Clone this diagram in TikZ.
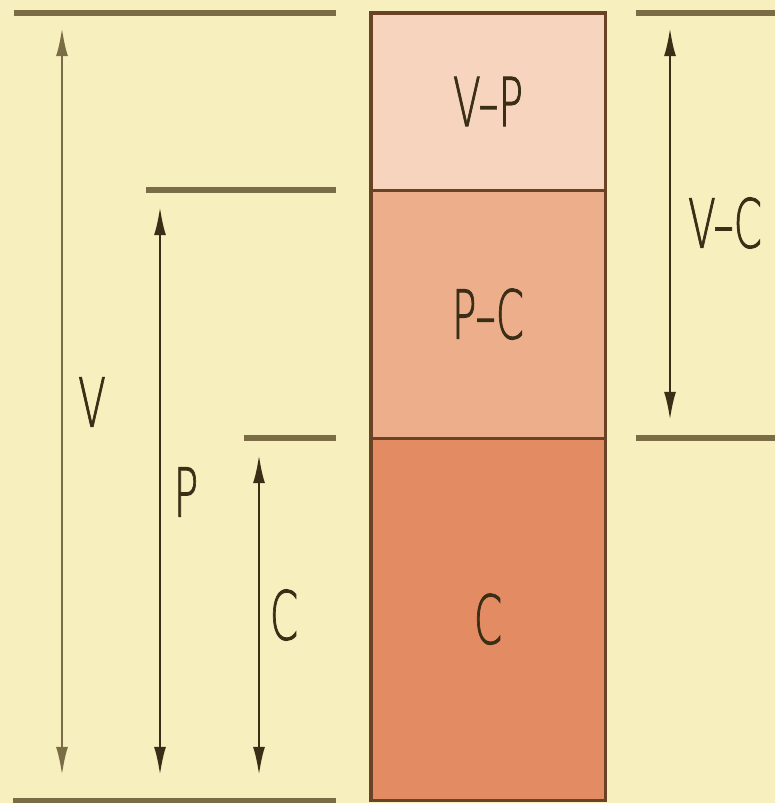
\documentclass[tikz,border=0pt]{standalone}
\usepackage{fontspec}
\setmainfont{DejaVu Sans}[UprightFont=* ExtraLight,UprightFeatures={FakeBold=1.6}]
\usetikzlibrary{arrows.meta,positioning}

\definecolor{paper}{HTML}{F8EFBE}
\definecolor{rule}{HTML}{7A6D45}
\definecolor{ink}{HTML}{3B2E17}
\definecolor{edge}{HTML}{6A4326}
\definecolor{lightpart}{HTML}{F6D4BE}
\definecolor{midpart}{HTML}{EDAE8B}
\definecolor{darkpart}{HTML}{E38B62}

\tikzset{
  level/.style={line width=4.2pt,rule},
  span/.style={line width=1.7pt,ink,{Latex[length=20pt,width=8.5pt]}-{Latex[length=20pt,width=8.5pt]}},
  lbl/.style={font=\fontsize{48}{50}\selectfont,text=ink,xscale=0.6,inner sep=0pt},
  part/.style={draw=edge,line width=2.2pt,outer sep=0pt,minimum width=5.85cm}
}

\begin{document}
\begin{tikzpicture}[x=0.025cm,y=-0.025cm]
	\fill[paper] (0,0) rectangle (775,803);
	\useasboundingbox (0,0) rectangle (775,803);
	% levels on the left
	\draw[level] (14,13) -- (336,13) coordinate (Vlevel);
	\draw[level] (146,190) -- (336,190) coordinate (Plevel);
	\draw[level] (244,438) -- (336,438) coordinate (Clevel);
	\draw[level] (13,801) -- (336,801) coordinate (zero);
	% levels on the right
	\draw[level] (636,13) -- (775,13) coordinate (VClevel top);
	\draw[level] (636,438) -- (775,438) coordinate (VClevel bot);
	% the bar
	\node[part,fill=lightpart,minimum height=4.425cm,anchor=north west] (vp) at (371,13) {};
	\node[part,fill=midpart,minimum height=6.2cm,below=0pt of vp] (pc) {};
	\node[part,fill=darkpart,minimum height=9.05cm,below=0pt of pc] (c) {};
	\node[lbl] at (vp) {V–P};
	\node[lbl] at (pc) {P–C};
	\node[lbl] at (c) {C};
	% spans
	\coordinate (Vtop) at (62,28);   \coordinate (Vbot) at (62,775);
	\coordinate (Ptop) at (160,207); \coordinate (Pbot) at (160,775);
	\coordinate (Ctop) at (259,455); \coordinate (Cbot) at (259,775);
	\coordinate (VCtop) at (670,28); \coordinate (VCbot) at (670,420);
	\draw[span,rule] (Vtop) -- (Vbot);
	\draw[span] (Ptop) -- (Pbot);
	\draw[span] (Ctop) -- (Cbot);
	\draw[span] (VCtop) -- (VCbot);
	\node[lbl] (Vlabel) at (92,402) {V};
	\node[lbl] (Plabel) at (186,492) {P};
	\node[lbl] (Clabel) at (284,615) {C};
	\node[lbl] (VClabel) at (725,223) {V–C};
\end{tikzpicture}
\end{document}
